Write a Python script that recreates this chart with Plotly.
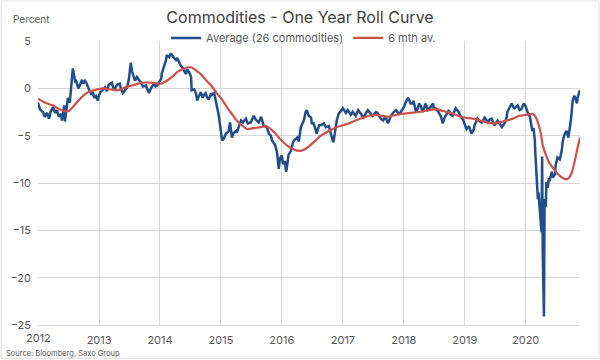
import pandas as pd
import plotly.graph_objects as go

# ---- data (decimal years, percent) ----
avg_years = [
    2012.00, 2012.03, 2012.08, 2012.11, 2012.15, 2012.18, 2012.21, 2012.25, 2012.28, 2012.31,
    2012.34, 2012.38, 2012.39, 2012.41, 2012.43, 2012.44, 2012.46, 2012.49, 2012.52, 2012.54,
    2012.56, 2012.57, 2012.59, 2012.61, 2012.62, 2012.66, 2012.69, 2012.72, 2012.74, 2012.77,
    2012.79, 2012.82, 2012.84, 2012.87, 2012.90, 2012.92, 2012.95, 2012.98, 2012.99,
    2013.02, 2013.05, 2013.10, 2013.13, 2013.16, 2013.21, 2013.23, 2013.26, 2013.30, 2013.34,
    2013.36, 2013.39, 2013.43, 2013.46, 2013.49, 2013.52, 2013.54, 2013.56, 2013.59, 2013.62,
    2013.66, 2013.69, 2013.72, 2013.77, 2013.80, 2013.82, 2013.85, 2013.90, 2013.93, 2013.97,
    2013.98, 2014.02, 2014.03, 2014.07, 2014.10, 2014.11, 2014.15, 2014.18, 2014.21, 2014.23,
    2014.26, 2014.28, 2014.31, 2014.34, 2014.38, 2014.39, 2014.43, 2014.44, 2014.48, 2014.51,
    2014.52, 2014.56, 2014.59, 2014.61, 2014.64, 2014.67, 2014.70, 2014.72, 2014.75, 2014.77,
    2014.80, 2014.84, 2014.85, 2014.89, 2014.90, 2014.92, 2014.95, 2014.97,
    2015.00, 2015.02, 2015.05, 2015.08, 2015.10, 2015.13, 2015.15, 2015.18, 2015.21, 2015.25,
    2015.26, 2015.30, 2015.33, 2015.36, 2015.41, 2015.44, 2015.49, 2015.54, 2015.57, 2015.62,
    2015.66, 2015.70, 2015.75, 2015.79, 2015.82, 2015.84, 2015.89, 2015.92, 2015.95, 2015.97,
    2016.00, 2016.02, 2016.05, 2016.07, 2016.08, 2016.11, 2016.15, 2016.18, 2016.20, 2016.25,
    2016.28, 2016.31, 2016.34, 2016.36, 2016.39, 2016.41, 2016.44, 2016.48, 2016.49, 2016.52,
    2016.56, 2016.57, 2016.61, 2016.64, 2016.69, 2016.72, 2016.77, 2016.80, 2016.84, 2016.85,
    2016.87, 2016.90, 2016.93,
    2017.00, 2017.05, 2017.08, 2017.13, 2017.16, 2017.21, 2017.25, 2017.30, 2017.33, 2017.38,
    2017.41, 2017.46, 2017.49, 2017.54, 2017.57, 2017.62, 2017.66, 2017.70, 2017.74, 2017.79,
    2017.82, 2017.87, 2017.92, 2017.95,
    2018.00, 2018.03, 2018.07, 2018.10, 2018.11, 2018.15, 2018.16, 2018.20, 2018.23, 2018.25,
    2018.28, 2018.31, 2018.34, 2018.36, 2018.39, 2018.44, 2018.48, 2018.49, 2018.52, 2018.57,
    2018.61, 2018.64, 2018.67, 2018.69, 2018.74, 2018.77, 2018.80, 2018.85, 2018.90, 2018.93,
    2018.98,
    2019.00, 2019.03, 2019.07, 2019.11, 2019.15, 2019.16, 2019.21, 2019.25, 2019.28, 2019.33,
    2019.38, 2019.41, 2019.44, 2019.49, 2019.54, 2019.57, 2019.61, 2019.66, 2019.69, 2019.70,
    2019.74, 2019.77, 2019.80, 2019.82, 2019.87, 2019.90, 2019.93, 2019.97,
    2020.00, 2020.03, 2020.07, 2020.08, 2020.11, 2020.13, 2020.15, 2020.16, 2020.18, 2020.20,
    2020.21, 2020.23, 2020.25, 2020.26, 2020.27, 2020.28, 2020.30, 2020.31, 2020.33, 2020.34,
    2020.36, 2020.38, 2020.39, 2020.43, 2020.44, 2020.48, 2020.49, 2020.52, 2020.56, 2020.59,
    2020.61, 2020.64, 2020.67, 2020.69, 2020.70, 2020.74, 2020.75, 2020.77, 2020.79, 2020.80,
    2020.82, 2020.84, 2020.85, 2020.87, 2020.89,
]
avg_values = [
    -1.5, -2.2, -2.5, -3.0, -2.6, -3.2, -2.4, -2.0, -2.6, -2.3,
    -3.0, -2.7, -3.4, -2.5, -1.8, -3.5, -2.6, -1.0, -1.5, -0.2,
    0.8, 2.1, 1.4, 0.6, 0.9, 0.0, 0.4, 0.9, 0.5, 0.8,
    0.6, 0.0, -0.2, -0.6, -0.5, -1.0, -0.8, -1.3, -0.9,
    -0.4, -0.2, 0.1, -0.3, 0.4, 0.6, 0.1, 0.0, 0.4, 0.5,
    -0.1, -0.5, -0.2, 0.1, 1.0, 2.7, 1.8, 1.4, 0.8, 1.2,
    0.9, 0.6, 0.2, 0.3, -0.2, -0.5, 0.0, 0.5, 0.2, 0.4,
    0.6, 1.0, 1.6, 2.4, 3.0, 3.5, 3.3, 3.7, 3.3, 3.2,
    3.0, 3.2, 2.8, 2.4, 2.1, 1.9, 1.5, 2.0, 1.7, 1.2,
    -0.2, -0.1, -0.5, -1.3, -0.8, -0.4, -1.0, -0.7, -0.5, -0.9,
    -1.2, -0.5, -0.7, -0.5, -0.8, -1.6, -2.4, -3.1,
    -4.5, -5.5, -5.3, -4.8, -4.7, -4.5, -3.6, -5.2, -4.7, -4.5,
    -4.7, -3.9, -3.4, -3.6, -3.2, -3.7, -3.6, -2.9, -3.3, -3.6,
    -3.0, -3.9, -4.1, -4.8, -5.0, -5.5, -6.0, -6.7, -8.5, -7.4,
    -7.1, -8.0, -7.7, -8.8, -8.5, -7.0, -6.6, -5.8, -5.5, -5.2,
    -5.6, -4.1, -3.6, -3.4, -2.5, -2.3, -2.9, -3.1, -3.7, -3.7,
    -4.5, -4.8, -3.9, -3.9, -3.7, -4.1, -4.0, -4.7, -5.7, -5.5,
    -4.5, -3.4, -2.7,
    -2.1, -2.6, -2.3, -2.8, -2.5, -2.9, -2.3, -2.7, -3.2, -2.6,
    -2.3, -2.7, -2.9, -2.5, -2.6, -3.2, -3.4, -3.0, -3.7, -2.9,
    -2.6, -2.3, -2.7, -2.5,
    -2.0, -1.5, -1.0, -1.4, -1.6, -1.6, -1.3, -2.5, -2.1, -1.6,
    -1.9, -2.5, -2.0, -1.6, -2.3, -2.0, -1.6, -2.1, -2.1, -2.5,
    -3.0, -3.7, -3.1, -2.9, -2.3, -2.8, -2.9, -2.1, -2.5, -2.9,
    -3.4,
    -3.8, -4.3, -4.0, -4.8, -4.3, -3.9, -3.2, -3.5, -3.6, -3.1,
    -3.6, -3.3, -3.2, -3.9, -3.4, -3.7, -4.1, -3.6, -3.0, -2.5,
    -1.9, -1.6, -2.0, -2.1, -1.8, -2.3, -2.2, -1.6,
    -1.9, -2.5, -3.0, -3.4, -4.5, -4.2, -5.5, -7.0, -9.0, -11.7,
    -11.0, -13.0, -14.0, -15.2, -7.2, -17.3, -24.1, -11.7, -12.5, -9.9,
    -10.5, -9.5, -9.8, -8.8, -9.4, -9.1, -8.2, -7.3, -7.5, -6.6,
    -5.5, -4.8, -4.5, -4.9, -5.2, -3.4, -2.3, -1.3, -0.9, -0.8,
    -1.2, -1.6, -1.0, -0.6, -0.2,
]

ma_years = [
    2012.00, 2012.11, 2012.24, 2012.35, 2012.44, 2012.50, 2012.58, 2012.66, 2012.74, 2012.82,
    2012.92, 2013.05, 2013.18, 2013.31, 2013.43, 2013.54, 2013.64, 2013.74, 2013.85, 2013.95,
    2014.02, 2014.11, 2014.20, 2014.28, 2014.36, 2014.44, 2014.52, 2014.59, 2014.67, 2014.75,
    2014.84, 2014.93, 2015.02, 2015.10, 2015.18, 2015.26, 2015.34, 2015.43, 2015.54, 2015.66,
    2015.75, 2015.87, 2015.98, 2016.10, 2016.21, 2016.31, 2016.41, 2016.52, 2016.64, 2016.77,
    2016.90, 2017.10, 2017.21, 2017.33, 2017.43, 2017.54, 2017.64, 2017.75, 2017.87, 2017.98,
    2018.11, 2018.25, 2018.41, 2018.54, 2018.64, 2018.77, 2018.89, 2019.00, 2019.13, 2019.25,
    2019.36, 2019.48, 2019.57, 2019.69, 2019.79, 2019.90, 2020.02, 2020.11, 2020.16, 2020.21,
    2020.25, 2020.28, 2020.33, 2020.39, 2020.46, 2020.52, 2020.59, 2020.66, 2020.70, 2020.75,
    2020.80, 2020.84, 2020.89,
]
ma_values = [
    -1.1, -1.5, -1.8, -2.2, -2.4, -2.4, -1.9, -1.3, -0.8, -0.4,
    -0.2, 0.0, -0.1, -0.2, 0.1, 0.3, 0.5, 0.6, 0.6, 0.5,
    0.5, 0.8, 1.2, 1.7, 2.0, 2.2, 2.2, 1.9, 1.5, 0.9,
    0.3, -0.5, -1.2, -2.0, -2.7, -3.4, -3.9, -4.3, -4.2, -4.1,
    -4.0, -4.6, -5.4, -6.1, -6.5, -6.6, -6.3, -5.7, -5.0, -4.5,
    -4.1, -3.7, -3.4, -3.1, -2.9, -2.8, -2.9, -3.0, -2.8, -2.7,
    -2.6, -2.5, -2.3, -2.2, -2.4, -2.6, -2.9, -3.1, -3.2, -3.4,
    -3.6, -3.7, -3.6, -3.4, -3.2, -2.9, -2.8, -2.7, -3.0, -3.8,
    -4.8, -6.0, -7.0, -7.9, -8.5, -9.0, -9.4, -9.6, -9.5, -9.0,
    -7.8, -6.6, -5.2,
]

year_ticks = [2012, 2013, 2014, 2015, 2016, 2017, 2018, 2019, 2020]
y_ticks = [5, 0, -5, -10, -15, -20, -25]

series_names = ["Average (26 commodities)", "6 mth av."]
title_text = "Commodities - One Year Roll Curve"
y_title = "Percent"
source_text = "Source: Bloomberg, Saxo Group"


def to_dates(years):
    out = []
    for y in years:
        base = int(y)
        start = pd.Timestamp(base, 1, 1)
        end = pd.Timestamp(base + 1, 1, 1)
        out.append(start + (end - start) * (y - base))
    return out


FONT = "Inter, Open Sans, sans-serif"
BLUE = "#1f4e8c"
RED = "#d0504a"
GRID = "#d9d9d9"
TXT = "#595959"

fig = go.Figure()
fig.add_trace(go.Scatter(
    x=to_dates(avg_years), y=avg_values, mode="lines", name=series_names[0],
    line=dict(color=BLUE, width=2.5),
))
fig.add_trace(go.Scatter(
    x=to_dates(ma_years), y=ma_values, mode="lines", name=series_names[1],
    line=dict(color=RED, width=2.2, shape="spline", smoothing=0.6),
))

# first year label drawn as an annotation so it stays centred on the left edge
tick_text = [str(y) for y in year_ticks]
first_label = tick_text[0]
tick_text[0] = ""

fig.update_layout(
    width=600, height=360,
    margin=dict(l=38, r=20, t=41, b=35, autoexpand=False),
    paper_bgcolor="white", plot_bgcolor="white",
    font=dict(family=FONT, size=11, color=TXT),
    title=dict(text=title_text, x=0.5, xanchor="center", y=1 - 17 / 360, yanchor="middle",
               font=dict(size=16, color="#404040", family=FONT)),
    showlegend=True,
    legend=dict(orientation="h", x=0.49, xanchor="center", y=1.011, yanchor="middle",
                font=dict(size=11, color=TXT), bgcolor="rgba(0,0,0,0)",
                itemwidth=30, tracegroupgap=0),
    xaxis=dict(
        type="date", automargin=False,
        range=[pd.Timestamp(2012, 1, 1), to_dates([2020.89])[0]],
        tickvals=[pd.Timestamp(y, 1, 1) for y in year_ticks],
        ticktext=tick_text,
        showgrid=True, gridcolor=GRID, gridwidth=1,
        showline=True, linecolor=GRID, ticks="",
        tickfont=dict(size=11, color=TXT),
        zeroline=False,
        ticklabelstandoff=5,
    ),
    yaxis=dict(
        range=[-25, 5], tickvals=y_ticks, automargin=False,
        showgrid=True, gridcolor=GRID, gridwidth=1,
        zeroline=False, showline=False, ticks="",
        tickfont=dict(size=11, color=TXT),
        ticklabelstandoff=6,
    ),
    annotations=[
        dict(text=y_title, xref="paper", yref="paper", x=-0.05, y=1.077,
             xanchor="left", yanchor="middle", showarrow=False,
             font=dict(size=10, color=TXT)),
        dict(text=source_text, xref="paper", yref="paper", x=-0.062, y=-0.099,
             xanchor="left", yanchor="middle", showarrow=False,
             font=dict(size=7.5, color=TXT)),
        dict(text=first_label, xref="paper", yref="paper", x=0.0,
             y=0, xanchor="center", yanchor="top", yshift=-4, showarrow=False,
             font=dict(size=11, color=TXT)),
    ],
    shapes=[
        dict(type="rect", xref="paper", yref="paper",
             x0=-0.068, x1=1.035, y0=-0.118, y1=1.141,
             line=dict(color="#e0e0e0", width=1), fillcolor="rgba(0,0,0,0)", layer="below"),
    ],
)

fig.write_html("out.html", config={"displayModeBar": False},
               post_script="document.body.style.margin='0px';")
